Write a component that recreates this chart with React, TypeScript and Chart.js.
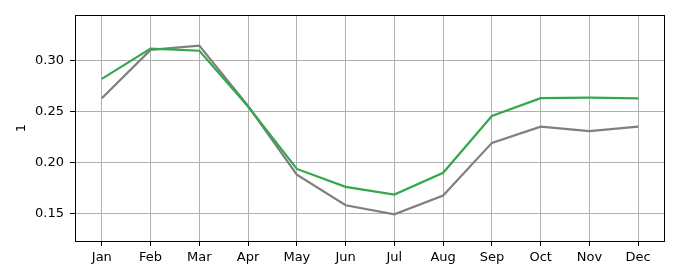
import React, { useEffect, useRef } from "react";
import { Chart, registerables } from "chart.js";

Chart.register(...registerables);

const months = ["Jan", "Feb", "Mar", "Apr", "May", "Jun", "Jul", "Aug", "Sep", "Oct", "Nov", "Dec"];
const greenSeries = [0.282, 0.3115, 0.3095, 0.255, 0.194, 0.1765, 0.169, 0.1903, 0.2458, 0.2632, 0.2636, 0.2630];
const greySeries = [0.2631, 0.3103, 0.3145, 0.2555, 0.1885, 0.1585, 0.1497, 0.168, 0.2195, 0.2353, 0.2310, 0.2353];
const yTicks = [0.15, 0.2, 0.25, 0.3];
const yMin = 0.1236;
const yMax = 0.3444;
const yTitle = "1";

const framePlugin = {
  id: "frame",
  afterDraw(chart: any) {
    const { ctx, chartArea } = chart;
    ctx.save();
    ctx.strokeStyle = "#000";
    ctx.lineWidth = 1;
    ctx.strokeRect(
      Math.round(chartArea.left) + 0.5,
      Math.round(chartArea.top) + 0.5,
      Math.round(chartArea.right - chartArea.left) - 1,
      Math.round(chartArea.bottom - chartArea.top)
    );
    ctx.restore();
  },
};

export default function App() {
  const ref = useRef<HTMLCanvasElement>(null);
  useEffect(() => {
    if (!ref.current) return;
    const font = { family: "DejaVu Sans", size: 13 };
    const chart = new Chart(ref.current, {
      type: "line",
      data: {
        datasets: [
          {
            label: "green",
            data: months.map((_, i) => ({ x: i, y: greenSeries[i] })),
            borderColor: "#33a84c",
            borderWidth: 2.2,
            pointRadius: 0,
            tension: 0,
            fill: false,
          },
          {
            label: "grey",
            data: months.map((_, i) => ({ x: i, y: greySeries[i] })),
            borderColor: "#7f7f7f",
            borderWidth: 2.2,
            pointRadius: 0,
            tension: 0,
            fill: false,
          },
        ],
      },
      options: {
        animation: false,
        responsive: false,
        layout: { padding: { left: 0, top: 15, right: 15, bottom: 0 } },
        plugins: { legend: { display: false }, tooltip: { enabled: false } },
        scales: {
          x: {
            type: "linear",
            min: -0.55,
            max: 11.55,
            afterBuildTicks: (s: any) => {
              s.ticks = months.map((_, i) => ({ value: i }));
            },
            afterFit: (s: any) => {
              s.height = 39;
            },
            ticks: {
              autoSkip: false,
              maxRotation: 0,
              padding: 4,
              color: "#000",
              font,
              callback: (v: any) => months[Math.round(Number(v))] ?? "",
            },
            grid: { color: "#b0b0b0", lineWidth: 1, tickLength: 5, tickColor: "#000", tickWidth: 1 },
            border: { display: false },
          },
          y: {
            type: "linear",
            min: yMin,
            max: yMax,
            afterBuildTicks: (s: any) => {
              s.ticks = yTicks.map((v) => ({ value: v }));
            },
            afterFit: (s: any) => {
              s.width = 75;
            },
            ticks: {
              padding: 6,
              color: "#000",
              font,
              callback: (v: any) => Number(v).toFixed(2),
            },
            title: { display: true, text: yTitle, color: "#000", font, padding: { top: 14, bottom: 0 } },
            grid: { color: "#b0b0b0", lineWidth: 1, tickLength: 5, tickColor: "#000", tickWidth: 1 },
            border: { display: false },
          },
        },
      },
      plugins: [framePlugin],
    } as any);
    return () => chart.destroy();
  }, []);
  return (
    <div style={{ position: "absolute", left: 0, top: 0, width: 680, height: 280, background: "#fff" }}>
      <canvas ref={ref} width={680} height={280} style={{ display: "block" }} />
    </div>
  );
}
